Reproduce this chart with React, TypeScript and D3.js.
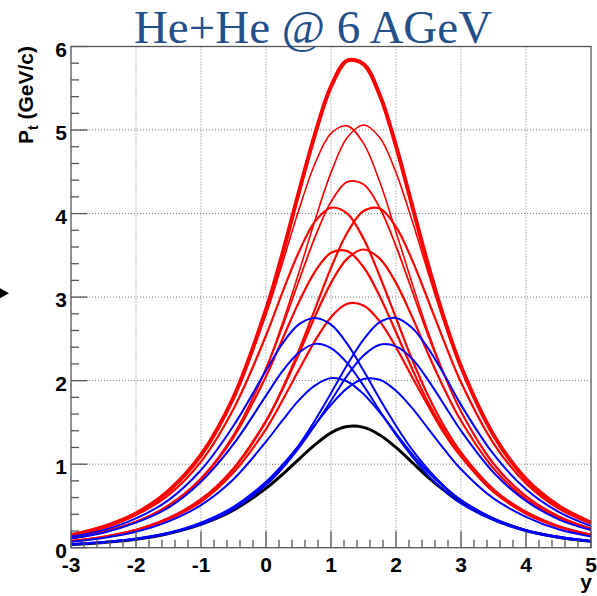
import React from "react";
import * as d3 from "d3";

const X_GRID = [-3, -2.5, -2, -1.5, -1, -0.5, 0, 0.25, 0.5, 0.75, 1, 1.25, 1.5, 1.75, 2, 2.25, 2.5, 2.75, 3, 3.5, 4, 4.5, 5];

const redThick = [0.15, 0.25, 0.41, 0.68, 1.11, 1.80, 2.85, 3.51, 4.24, 4.94, 5.52, 5.83, 5.79, 5.42, 4.81, 4.09, 3.37, 2.72, 2.17, 1.35, 0.82, 0.50, 0.30];
const red506a = [0.15, 0.25, 0.41, 0.68, 1.11, 1.79, 2.79, 3.40, 4.03, 4.59, 4.96, 5.05, 4.84, 4.38, 3.78, 3.16, 2.57, 2.06, 1.63, 1.00, 0.61, 0.37, 0.23];
const red506b = [0.11, 0.185, 0.31, 0.50, 0.83, 1.34, 2.15, 2.68, 3.28, 3.91, 4.49, 4.91, 5.06, 4.91, 4.49, 3.91, 3.28, 2.68, 2.15, 1.34, 0.83, 0.50, 0.31];
const red440 = [0.11, 0.19, 0.31, 0.51, 0.83, 1.35, 2.14, 2.64, 3.18, 3.71, 4.14, 4.38, 4.35, 4.07, 3.61, 3.07, 2.53, 2.05, 1.63, 1.01, 0.62, 0.38, 0.23];
const red408a = [0.14, 0.23, 0.39, 0.63, 1.03, 1.66, 2.54, 3.05, 3.53, 3.90, 4.07, 4.00, 3.70, 3.25, 2.75, 2.25, 1.81, 1.44, 1.14, 0.70, 0.43, 0.26, 0.157];
const red408b = [0.078, 0.13, 0.21, 0.35, 0.57, 0.94, 1.51, 1.90, 2.35, 2.85, 3.35, 3.77, 4.03, 4.06, 3.84, 3.44, 2.95, 2.45, 1.98, 1.25, 0.77, 0.47, 0.29];
const red357a = [0.11, 0.19, 0.31, 0.50, 0.82, 1.32, 2.05, 2.49, 2.93, 3.30, 3.53, 3.55, 3.36, 3.01, 2.58, 2.14, 1.73, 1.39, 1.10, 0.67, 0.41, 0.25, 0.15];
const red357b = [0.079, 0.13, 0.215, 0.355, 0.58, 0.95, 1.52, 1.89, 2.31, 2.76, 3.17, 3.46, 3.57, 3.46, 3.17, 2.76, 2.31, 1.89, 1.52, 0.95, 0.58, 0.355, 0.215];
const red293 = [0.076, 0.125, 0.205, 0.34, 0.55, 0.90, 1.42, 1.76, 2.12, 2.47, 2.76, 2.92, 2.90, 2.71, 2.40, 2.04, 1.69, 1.36, 1.09, 0.67, 0.41, 0.25, 0.15];
const blue275a = [0.13, 0.21, 0.35, 0.57, 0.93, 1.46, 2.12, 2.44, 2.67, 2.75, 2.67, 2.44, 2.12, 1.78, 1.46, 1.17, 0.93, 0.73, 0.57, 0.35, 0.21, 0.13, 0.078];
const blue275b = [0.039, 0.064, 0.106, 0.17, 0.29, 0.47, 0.77, 0.97, 1.22, 1.52, 1.85, 2.19, 2.49, 2.70, 2.75, 2.63, 2.38, 2.06, 1.71, 1.12, 0.70, 0.43, 0.26];
const blue244a = [0.11, 0.18, 0.30, 0.48, 0.79, 1.24, 1.82, 2.11, 2.33, 2.44, 2.39, 2.21, 1.94, 1.64, 1.35, 1.09, 0.86, 0.68, 0.53, 0.33, 0.20, 0.12, 0.073];
const blue244b = [0.038, 0.063, 0.10, 0.17, 0.28, 0.46, 0.75, 0.95, 1.19, 1.46, 1.76, 2.06, 2.30, 2.43, 2.41, 2.26, 2.00, 1.70, 1.40, 0.90, 0.56, 0.34, 0.21];
const blue203a = [0.071, 0.117, 0.19, 0.315, 0.51, 0.82, 1.27, 1.52, 1.76, 1.94, 2.03, 1.99, 1.84, 1.62, 1.37, 1.12, 0.90, 0.72, 0.57, 0.35, 0.21, 0.13, 0.078];
const blue203b = [0.041, 0.067, 0.11, 0.18, 0.30, 0.49, 0.79, 0.99, 1.22, 1.47, 1.71, 1.91, 2.02, 2.01, 1.88, 1.67, 1.42, 1.17, 0.94, 0.59, 0.37, 0.22, 0.135];
const black146 = [0.038, 0.062, 0.10, 0.17, 0.28, 0.45, 0.71, 0.875, 1.055, 1.23, 1.375, 1.45, 1.44, 1.35, 1.20, 1.02, 0.84, 0.68, 0.54, 0.34, 0.205, 0.125, 0.076];

const X_TICKS = [-3, -2, -1, 0, 1, 2, 3, 4, 5];
const Y_TICKS = [0, 1, 2, 3, 4, 5, 6];
const TITLE = "He+He @ 6 AGeV";

const SERIES = [
  { values: black146, color: "#000000", width: 3 },
  { values: red293, color: "#ff0000", width: 2.2 },
  { values: red357a, color: "#ff0000", width: 2.2 },
  { values: red357b, color: "#ff0000", width: 2.2 },
  { values: red408a, color: "#ff0000", width: 2.2 },
  { values: red408b, color: "#ff0000", width: 2.2 },
  { values: red440, color: "#ff0000", width: 1.8 },
  { values: red506a, color: "#ff0000", width: 1.6 },
  { values: red506b, color: "#ff0000", width: 1.6 },
  { values: redThick, color: "#ff0000", width: 4 },
  { values: blue275a, color: "#0000ff", width: 2 },
  { values: blue275b, color: "#0000ff", width: 2 },
  { values: blue244a, color: "#0000ff", width: 2 },
  { values: blue244b, color: "#0000ff", width: 2 },
  { values: blue203a, color: "#0000ff", width: 2 },
  { values: blue203b, color: "#0000ff", width: 2 },
];

const L = 71, R = 591, T = 46.5, B = 547.7;

export default function App() {
  const x = d3.scaleLinear().domain([-3, 5]).range([L, R]);
  const y = d3.scaleLinear().domain([0, 6]).range([B, T]);
  const line = d3
    .line<number>()
    .x((_, i) => x(X_GRID[i]))
    .y((v) => y(v))
    .curve(d3.curveCatmullRom.alpha(0.5));

  const xMinor = d3.range(-3, 5.0001, 0.2);
  const yMinor = d3.range(0, 6.0001, 0.2);
  const axisColor = "#555";
  const font = "'Liberation Sans', Arial, Helvetica, sans-serif";

  return (
    <svg
      width={597}
      height={596}
      style={{ position: "absolute", left: 0, top: 0, background: "#fff" }}
    >
      <rect x={0} y={0} width={597} height={596} fill="#fff" />
      <defs>
        <clipPath id="plot">
          <rect x={L} y={T} width={R - L} height={B - T} />
        </clipPath>
      </defs>
      {/* grid */}
      {X_TICKS.filter((t) => t > -3 && t < 5).map((t) => (
        <line key={"gx" + t} x1={x(t)} x2={x(t)} y1={T} y2={B} stroke="#777" strokeWidth={1} strokeDasharray="1 2" />
      ))}
      {Y_TICKS.filter((t) => t > 0 && t < 6).map((t) => (
        <line key={"gy" + t} x1={L} x2={R} y1={y(t)} y2={y(t)} stroke="#777" strokeWidth={1} strokeDasharray="1 2" />
      ))}
      {/* curves */}
      <g clipPath="url(#plot)">
        {SERIES.map((s, i) => (
          <path key={i} d={line(s.values) || ""} fill="none" stroke={s.color} strokeWidth={s.width} strokeLinejoin="round" />
        ))}
      </g>
      {/* frame */}
      <rect x={L} y={T} width={R - L} height={B - T} fill="none" stroke={axisColor} strokeWidth={1.3} />
      {/* y ticks */}
      {yMinor.map((t, i) => {
        const major = i % 5 === 0;
        return <line key={"yt" + i} x1={L} x2={L + (major ? 16.5 : 8)} y1={y(t)} y2={y(t)} stroke={axisColor} strokeWidth={1.3} />;
      })}
      {xMinor.map((t, i) => {
        const major = i % 5 === 0;
        return <line key={"xt" + i} x1={x(t)} x2={x(t)} y1={B} y2={B - (major ? 16.5 : 8)} stroke={axisColor} strokeWidth={1.3} />;
      })}
      {/* tick labels */}
      {Y_TICKS.map((t) => (
        <text key={"yl" + t} x={67} y={y(t) + 10} textAnchor="end" fontFamily={font} fontWeight="bold" fontSize={21} fill="#000">
          {t}
        </text>
      ))}
      {X_TICKS.map((t) => (
        <text key={"xl" + t} x={x(t)} y={572} textAnchor="middle" fontFamily={font} fontWeight="bold" fontSize={21} fill="#000">
          {t}
        </text>
      ))}
      {/* axis titles */}
      <text x={592} y={589} textAnchor="end" fontFamily={font} fontWeight="bold" fontSize={21} fill="#000">
        y
      </text>
      <text
        transform="translate(33,46) rotate(-90)"
        textAnchor="end"
        fontFamily={font}
        fontWeight="bold"
        fontSize={21}
        fill="#000"
      >
        P<tspan fontSize={14} dy={5}>t</tspan>
        <tspan dy={-5}> (GeV/c)</tspan>
      </text>
      {/* title */}
      <text x={313} y={43} textAnchor="middle" fontFamily="'Liberation Serif', 'Times New Roman', serif" fontSize={47} fill="#234f8a">
        {TITLE}
      </text>
      {/* side marker */}
      <polygon points="0,288.3 9,293.3 0,298.3" fill="#000" />
    </svg>
  );
}
